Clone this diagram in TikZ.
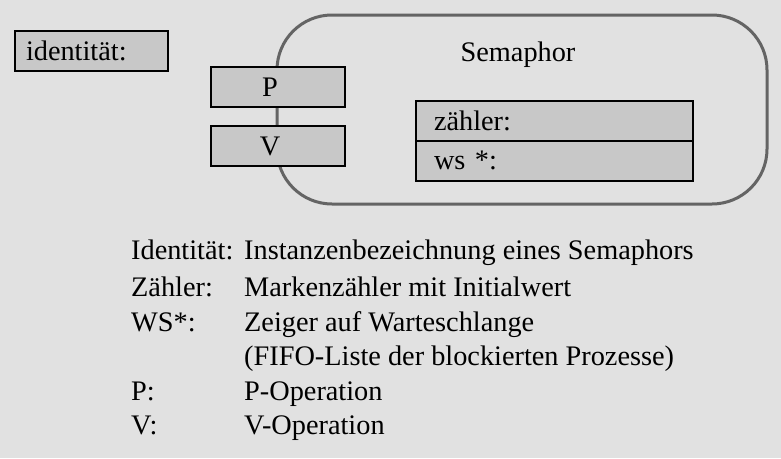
\documentclass[tikz,border=0pt]{standalone}
\usepackage{fontspec}
\setmainfont{Liberation Serif}
\usetikzlibrary{positioning}
\definecolor{bggray}{RGB}{225,225,225}
\definecolor{boxgray}{RGB}{200,200,200}
\definecolor{rimgray}{RGB}{100,100,100}
\tikzset{
  field/.style={rectangle, draw=black, fill=boxgray, line width=2pt,
    minimum height=40pt, inner sep=0pt, outer sep=0pt,
    font=\fontsize{28.3}{33}\selectfont},
  opbox/.style={field, minimum width=134pt, text width=118pt, align=center,
    execute at end node=\hspace*{16pt}},
  slotbox/.style={field, minimum width=277pt, text width=241pt, align=left},
  entry/.style={anchor=base west, inner sep=0pt, font=\fontsize{28.3}{33}\selectfont}
}

\begin{document}
\begin{tikzpicture}[x=1pt, y=-1pt]
  \fill[bggray] (0,0) rectangle (781,458);
  \useasboundingbox (0,0) rectangle (781,458);

  % Semaphor hull
  \draw[rimgray, line width=3pt, rounded corners=55pt] (277,15) rectangle (767,204);
  \node[entry, anchor=center] (title) at (518,55) {Semaphor};

  % identity
  \node[field, minimum width=153pt, text width=131pt, align=left] (ident) at (91.5,51) {identität:};

  % Operations
  \node[opbox] (pop) at (278,87) {P};
  \node[opbox, below=19pt of pop] (vop) {V};

  % Data fields
  \node[slotbox] (count) at (554.5,120.5) {zähler:};
  \node[slotbox, below=0pt of count] (queue) {ws *:};

  % Legend
  \node[entry] (kid) at (131,259) {Identität:};
  \node[entry] (kcount) at (131,296) {Zähler:};
  \node[entry] (kqueue) at (131,331) {WS*:};
  \node[entry] (kp) at (131,400) {P:};
  \node[entry] (kv) at (131,434) {V:};
  \node[entry] (did) at (244,259) {Instanzenbezeichnung eines Semaphors};
  \node[entry] (dcount) at (244,296) {Markenzähler mit Initialwert};
  \node[entry] (dqueue) at (244,331) {Zeiger auf Warteschlange};
  \node[entry] (dfifo) at (244,365) {(FIFO-Liste der blockierten Prozesse)};
  \node[entry] (dp) at (244,400) {P-Operation};
  \node[entry] (dv) at (244,434) {V-Operation};
\end{tikzpicture}
\end{document}
